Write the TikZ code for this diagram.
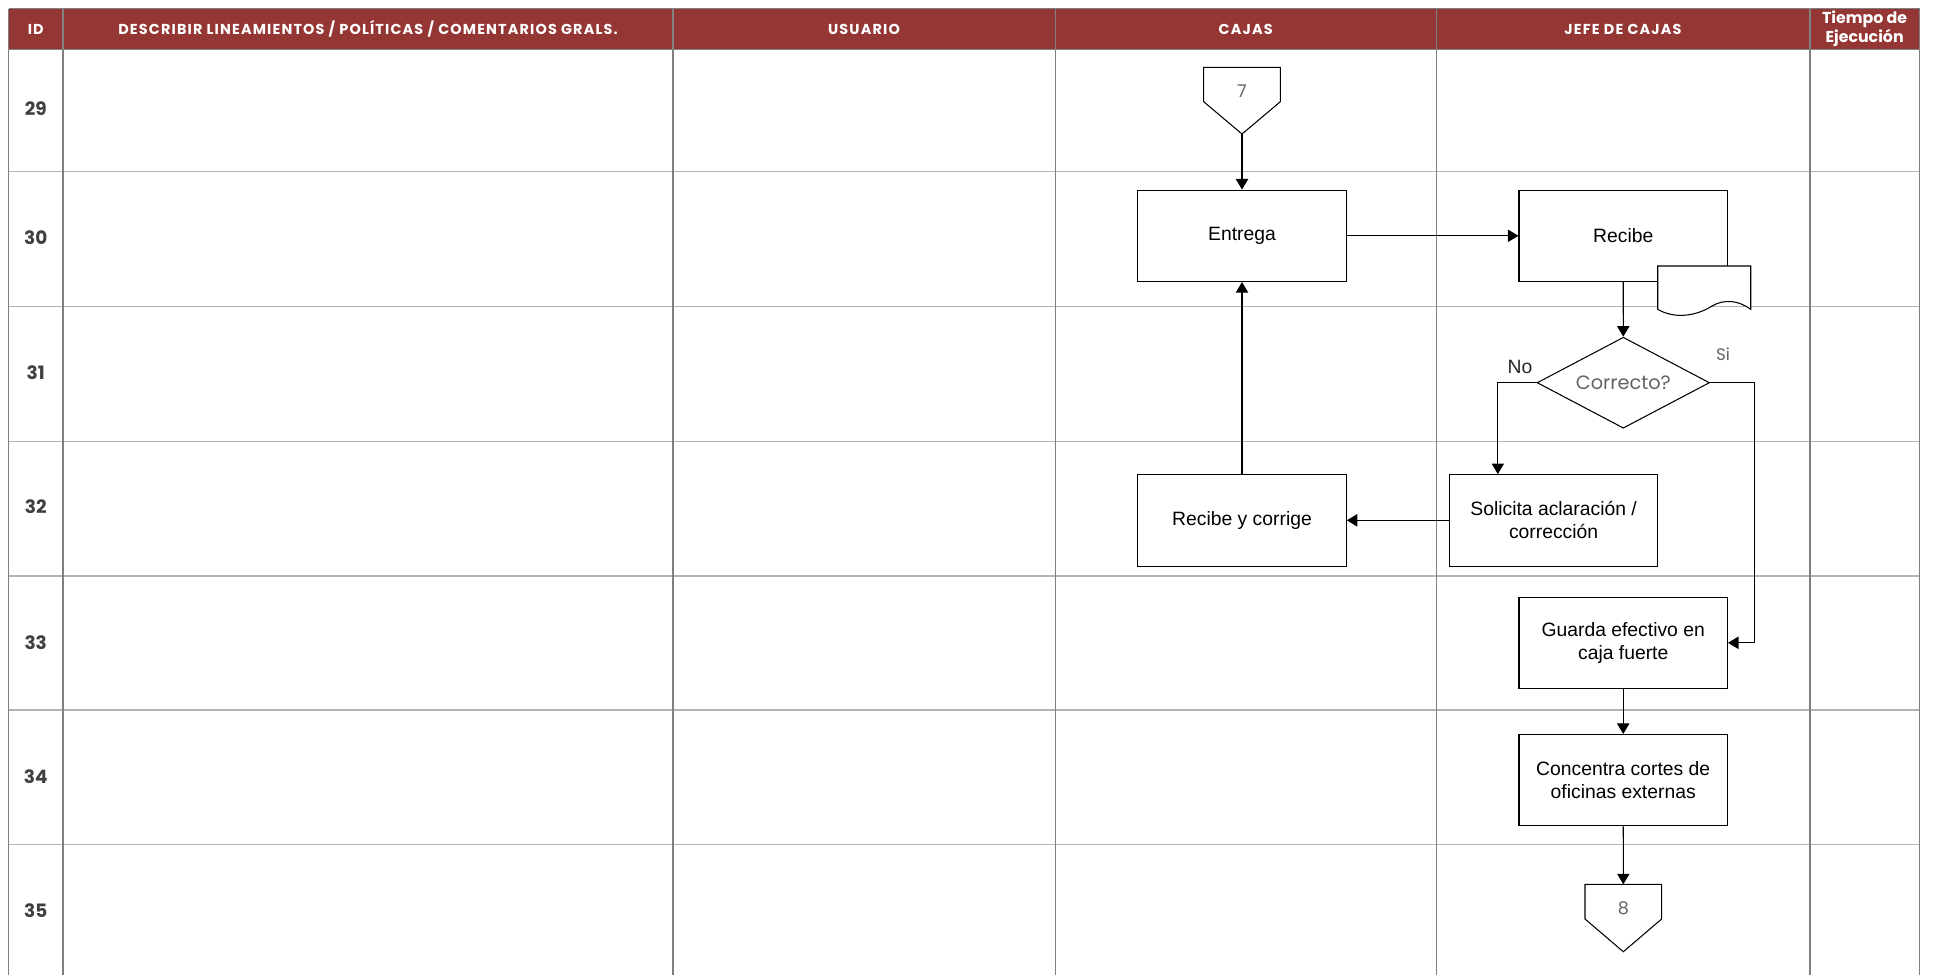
\documentclass[tikz,border=0pt]{standalone}
\usepackage{fontspec}
\setmainfont{Liberation Sans}
\newfontfamily\gothic{Poppins}
\newfontfamily\gothicwide[LetterSpace=8]{Poppins}
\usetikzlibrary{shapes.geometric,arrows.meta,positioning,calc}

\definecolor{headred}{RGB}{148,55,52}
\definecolor{gridv}{RGB}{128,128,128}
\definecolor{gridh}{RGB}{180,180,180}
\definecolor{idgray}{RGB}{64,64,64}
\definecolor{lblgray}{RGB}{100,100,100}

\begin{document}
\begin{tikzpicture}[
    x=0.02cm, y=-0.02cm,
    process/.style={rectangle, draw, line width=0.6pt, fill=white, minimum width=4.17cm, minimum height=1.83cm, align=center, font=\fontsize{11}{13}\selectfont},
    decision/.style={diamond, draw, line width=0.6pt, fill=white, minimum width=3.45cm, minimum height=1.82cm, inner sep=0pt, font=\gothic\fontsize{11}{13}\selectfont, text=lblgray},
    offpage/.style={draw, line width=0.6pt, fill=white},
    offtxt/.style={font=\gothic\fontsize{10}{12}\selectfont, text=lblgray, inner sep=0pt},
    headtxt/.style={text=white, font=\gothicwide\bfseries\fontsize{8.2}{9}\selectfont, align=center},
    idtxt/.style={text=idgray, font=\gothic\bfseries\fontsize{10.5}{12}\selectfont},
    flow/.style={draw, line width=0.6pt, -{Triangle[length=6pt,width=7pt]}}
]
    \useasboundingbox (0,0) rectangle (1933,975);

    % Header
    \fill[headred] (8.6,8.6) rectangle (1919.5,49.3);
    \node[headtxt] (hid)    at (35.7,29)   {ID};
    \node[headtxt] (hdesc)  at (368,29)    {DESCRIBIR LINEAMIENTOS / POLÍTICAS / COMENTARIOS GRALS.};
    \node[headtxt] (husr)   at (864,29)    {USUARIO};
    \node[headtxt] (hcajas) at (1245.7,29) {CAJAS};
    \node[headtxt] (hjefe)  at (1623,29)   {JEFE DE CAJAS};
    \node[headtxt, font=\gothic\bfseries\fontsize{9}{9.6}\selectfont, inner sep=0pt] (htiempo) at (1864.6,28.5) {Tiempo de\\Ejecución};

    % Grid
    \draw[gridv, line width=0.8pt] (8.6,8.6) -- (1919.5,8.6);
    \draw[gridv, line width=0.8pt] (8.6,49.3) -- (1919.5,49.3);
    \foreach \y in {171.4,306.4,441.3,575.7,710.1,844.5}
        \draw[gridh, line width=0.9pt] (8.6,\y) -- (1919.5,\y);
    \foreach \x in {8.6,62.9,673.1,1055.3,1436.2,1809.8,1919.5}
        \draw[gridv, line width=0.8pt] (\x,8.6) -- (\x,975);

    % Row ids
    \foreach \id/\y in {29/108.5,30/238,31/372.5,32/507,33/642.5,34/777,35/911}
        \node[idtxt] (row\id) at (35.7,\y) {\id};

    % Cajas
    \draw[offpage] (1203.7,67.3) -- (1280.3,67.3) -- (1280.3,101.7) -- (1242,134) -- (1203.7,101.7) -- cycle;
    \node[offtxt] (c7) at (1242,91) {7};
    \coordinate (c7tip) at (1242,134);
    \node[process] (entrega) at (1242,235.8) {Entrega};
    \node[process] (corrige) at (1242,520.3) {Recibe y corrige};

    % Jefe de cajas
    \node[process] (recibe) at (1623.2,235.8) {Recibe};
    \draw[line width=0.6pt, fill=white] (1657.7,309.3) -- (1657.7,266) -- (1750.7,266) -- (1750.7,309.3)
        .. controls (1738,300) and (1724,299) .. (1712,306)
        .. controls (1698,315) and (1676,320) .. (1657.7,309.3);
    \node[decision] (correcto) at (1623.3,382.7) {\makebox[0pt]{Correcto?}};
    \node[process] (solicita) at (1553.6,520.3) {Solicita aclaración /\\corrección};
    \node[process] (guarda) at (1623.2,642.8) {Guarda efectivo en\\caja fuerte};
    \node[process] (concentra) at (1623.2,780.2) {Concentra cortes de\\oficinas externas};
    \draw[offpage] (1585,884.3) -- (1661.6,884.3) -- (1661.6,919) -- (1623.3,951.7) -- (1585,919) -- cycle;
    \node[offtxt] (c8) at (1623.3,908) {8};
    \coordinate (c8top) at (1623.3,884.3);

    % Labels
    \node[font=\fontsize{11}{13}\selectfont, text=black!85] (lno) at (1520,367) {No};
    \node[font=\gothic\fontsize{9.5}{11}\selectfont, text=lblgray] (lsi) at (1723,354) {Si};

    % Edges
    \draw[flow] (c7tip) -- (entrega.north);
    \draw[flow] (entrega) -- (recibe);
    \draw[flow] (recibe) -- (correcto);
    \draw[flow] (correcto.west) -| ([xshift=0.98cm]solicita.north west);
    \draw[flow] (correcto.east) -- ++(44,0) |- (guarda.east);
    \draw[flow] (solicita) -- (corrige);
    \draw[flow] (corrige) -- (entrega);
    \draw[flow] (guarda) -- (concentra);
    \draw[flow] (concentra) -- (c8top);

\end{tikzpicture}
\end{document}
